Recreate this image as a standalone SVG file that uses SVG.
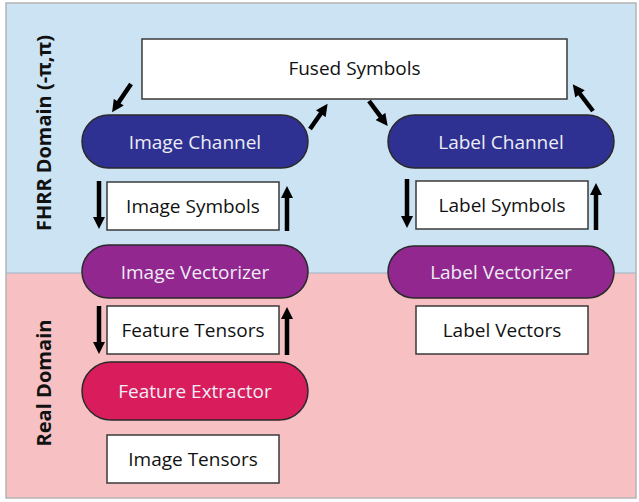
<svg xmlns="http://www.w3.org/2000/svg" width="639" height="502" viewBox="0 0 639 502">
  <style>
    .box { fill: #ffffff; stroke: #3a3a3a; stroke-width: 1.5; }
    .pill { stroke: #2a2a2a; stroke-width: 1.5; }
    .t { font-family: "Open Sans", "Liberation Sans", sans-serif; font-size: 19px; text-anchor: middle; }
    .dark { fill: #111111; }
    .light { fill: #ededf5; }
    .domain { font-family: "Open Sans", "Liberation Sans", sans-serif; font-size: 19px; font-weight: bold; fill: #111111; text-anchor: middle; }
    .arrow { stroke: #000000; stroke-width: 4.5; fill: none; marker-end: url(#head); }
  </style>
  <defs>
    <marker id="head" markerUnits="userSpaceOnUse" viewBox="0 0 13 13" markerWidth="13" markerHeight="12" refX="0.5" refY="6.5" orient="auto">
      <path d="M0,0 L13,6.5 L0,13 Z" fill="#000000"/>
    </marker>
  </defs>

  <!-- domain backgrounds -->
  <g id="domains">
    <rect x="6" y="3" width="630" height="270" fill="#cce3f4"/>
    <rect x="6" y="273" width="630" height="225" fill="#f7c1c4"/>
    <line x1="6" y1="273" x2="636" y2="273" stroke="#9fb3c4" stroke-width="1"/>
    <rect x="6" y="3" width="630" height="495" fill="none" stroke="#b4b4b4" stroke-width="1.5"/>
    <text class="domain" transform="translate(51,133) rotate(-90)" textLength="196" lengthAdjust="spacingAndGlyphs">FHRR Domain (-π,π)</text>
    <text class="domain" transform="translate(51,383) rotate(-90)" textLength="127" lengthAdjust="spacingAndGlyphs">Real Domain</text>
  </g>

  <!-- nodes -->
  <g id="fused-symbols">
    <rect class="box" x="142" y="39" width="425" height="60"/>
    <text class="t dark" x="354.5" y="75">Fused Symbols</text>
  </g>
  <g id="image-channel">
    <rect class="pill" x="82" y="115" width="226" height="53" rx="26.5" fill="#2e3192"/>
    <text class="t light" x="195" y="148.5">Image Channel</text>
  </g>
  <g id="label-channel">
    <rect class="pill" x="388" y="115" width="226" height="53" rx="26.5" fill="#2e3192"/>
    <text class="t light" x="501" y="148.5">Label Channel</text>
  </g>
  <g id="image-symbols">
    <rect class="box" x="107" y="182" width="172" height="48"/>
    <text class="t dark" x="193" y="212.5">Image Symbols</text>
  </g>
  <g id="label-symbols">
    <rect class="box" x="416" y="181" width="172" height="48"/>
    <text class="t dark" x="502" y="211.5">Label Symbols</text>
  </g>
  <g id="image-vectorizer">
    <rect class="pill" x="82" y="245" width="226" height="53" rx="26.5" fill="#92278f"/>
    <text class="t light" x="195" y="278.5">Image Vectorizer</text>
  </g>
  <g id="label-vectorizer">
    <rect class="pill" x="388" y="246" width="226" height="52" rx="26" fill="#92278f"/>
    <text class="t light" x="501" y="279">Label Vectorizer</text>
  </g>
  <g id="feature-tensors">
    <rect class="box" x="107" y="306" width="172" height="48"/>
    <text class="t dark" x="193" y="336.5">Feature Tensors</text>
  </g>
  <g id="label-vectors">
    <rect class="box" x="416" y="306" width="172" height="48"/>
    <text class="t dark" x="502" y="336.5">Label Vectors</text>
  </g>
  <g id="feature-extractor">
    <rect class="pill" x="82" y="362" width="226" height="58" rx="29" fill="#d91c5c"/>
    <text class="t light" x="195" y="397.5">Feature Extractor</text>
  </g>
  <g id="image-tensors">
    <rect class="box" x="107" y="435" width="172" height="48"/>
    <text class="t dark" x="193" y="465.5">Image Tensors</text>
  </g>

  <!-- connectors -->
  <g id="connectors">
    <!-- between fused symbols and the channels -->
    <line class="arrow" x1="131" y1="84" x2="118.5" y2="102.6"/>
    <line class="arrow" x1="310" y1="129" x2="321" y2="113.3"/>
    <line class="arrow" x1="369" y1="101" x2="380.8" y2="116.8"/>
    <line class="arrow" x1="593" y1="111" x2="579.7" y2="93.5"/>
    <!-- image column -->
    <line class="arrow" x1="99" y1="181" x2="99" y2="217.5"/>
    <line class="arrow" x1="287" y1="231" x2="287" y2="197.5"/>
    <line class="arrow" x1="99" y1="306" x2="99" y2="342.5"/>
    <line class="arrow" x1="287" y1="355" x2="287" y2="318.5"/>
    <!-- label column -->
    <line class="arrow" x1="407" y1="179" x2="407" y2="216.5"/>
    <line class="arrow" x1="596" y1="230" x2="596" y2="194.5"/>
  </g>
</svg>
